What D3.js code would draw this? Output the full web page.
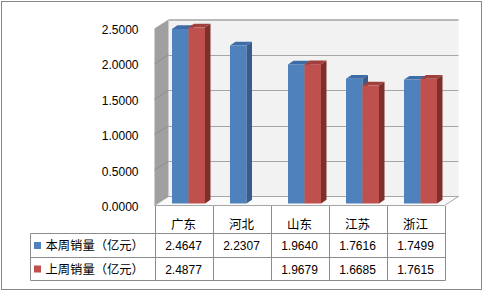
<!DOCTYPE html>
<html>
<head>
<meta charset="utf-8">
<script src="https://cdn.jsdelivr.net/npm/d3@7"></script>
<style>
  html, body { margin: 0; padding: 0; background: #fff; }
  svg { display: block; }
  text { font-family: "Liberation Sans", Arial, sans-serif; fill: #000; }
  .cjk { font-family: "Noto Sans CJK SC", "Liberation Sans", sans-serif; }
</style>
</head>
<body>
<script>
// Weekly sales by province (hundred-million yuan)
const categories = ["广东", "河北", "山东", "江苏", "浙江"];
const seriesNames = ["本周销量（亿元）", "上周销量（亿元）"];
const thisWeek = [2.4647, 2.2307, 1.9640, 1.7616, 1.7499];
const lastWeek = [2.4877, null, 1.9679, 1.6685, 1.7615];
const tickValues = [0, 0.5, 1.0, 1.5, 2.0, 2.5];

const W = 487, H = 296;
const colors = {
  front: ["#4F81BD", "#C0504D"],
  side:  ["#385D8A", "#7D2F2C"],
  top:   ["#3E6CA6", "#A0403D"]
};

const svg = d3.select("body").append("svg")
  .attr("width", W).attr("height", H);

// chart frame
svg.append("rect")
  .attr("x", 1.5).attr("y", 1.5).attr("width", 480).attr("height", 288)
  .attr("fill", "#fff").attr("stroke", "#878787").attr("stroke-width", 1);

// oblique 3D projection: front plane plus a depth offset
const depthX = 14, depthY = -9;
const y = d3.scaleLinear().domain([0, 2.5]).range([205.5, 28.5]);
const x = d3.scaleBand().domain(categories).range([154.5, 444.5]);
const xs = d3.scaleBand().domain(seriesNames).range([17.5, 50.5]);

const x0 = x.range()[0], x1 = x.range()[1];
const yb = v => y(v) + depthY;

// back wall
svg.append("rect")
  .attr("x", x0 + depthX).attr("y", yb(2.5))
  .attr("width", x1 - x0).attr("height", yb(0) - yb(2.5))
  .attr("fill", "#F2F2F2");
svg.append("line")
  .attr("x1", x0 + depthX).attr("x2", x1 + depthX)
  .attr("y1", yb(2.5) + 0.5).attr("y2", yb(2.5) + 0.5)
  .attr("stroke", "#A6A6A6").attr("stroke-width", 1.5);

// side wall
svg.append("path")
  .attr("d", `M${x0},${y(0)}L${x0},${y(2.5)}L${x0 + depthX},${yb(2.5)}L${x0 + depthX},${yb(0)}Z`)
  .attr("fill", "#A0A0A0");

// floor
svg.append("path")
  .attr("d", `M${x0},${y(0)}L${x0 + depthX},${yb(0)}L${x1 + depthX},${yb(0)}L${x1},${y(0)}Z`)
  .attr("fill", "#FAFAFA").attr("stroke", "#A6A6A6").attr("stroke-width", 1);

// gridlines: back wall and side wall
const grid = svg.append("g");
grid.selectAll("line.back").data(tickValues.filter(v => v > 0 && v < 2.5)).join("line")
  .attr("x1", x0 + depthX).attr("x2", x1 + depthX)
  .attr("y1", d => Math.round(yb(d)) + 0.5).attr("y2", d => Math.round(yb(d)) + 0.5)
  .attr("stroke", "#A6A6A6");
grid.selectAll("line.side").data(tickValues.filter(v => v > 0 && v < 2.5)).join("line")
  .attr("x1", x0).attr("x2", x0 + depthX)
  .attr("y1", d => y(d)).attr("y2", d => yb(d))
  .attr("stroke", "#8E8E8E");

// value axis labels
svg.append("g").selectAll("text").data(tickValues).join("text")
  .attr("x", 138.5).attr("y", d => y(d) + 1.5)
  .attr("text-anchor", "end").attr("dominant-baseline", "central")
  .attr("font-size", 12)
  .text(d => d3.format(".4f")(d));

// 3D columns
const barDx = 5.5, barDy = -3.7, barLift = -2;
const rows = categories.map((c, i) => [thisWeek[i], lastWeek[i]]);
const bars = svg.append("g");
categories.forEach((c, i) => {
  seriesNames.forEach((s, k) => {
    const v = rows[i][k];
    if (v == null) return;
    const bx = x(c) + xs(s), bw = xs.bandwidth();
    const top = y(v) + barLift, bot = y(0) + barLift;
    const g = bars.append("g");
    g.append("rect").attr("x", bx).attr("y", top).attr("width", bw).attr("height", bot - top)
      .attr("fill", colors.front[k]);
    g.append("path")
      .attr("d", `M${bx + bw},${top}L${bx + bw + barDx},${top + barDy}L${bx + bw + barDx},${bot + barDy}L${bx + bw},${bot}Z`)
      .attr("fill", colors.side[k]);
    g.append("path")
      .attr("d", `M${bx},${top}L${bx + barDx},${top + barDy}L${bx + bw + barDx},${top + barDy}L${bx + bw},${top}Z`)
      .attr("fill", colors.top[k]);
  });
});

// data table
const tbl = svg.append("g");
const lineColor = "#8C8C8C";
const legendLeft = 30.5;
const rowTops = [233.5, 257.5, 280.5];
const headerTop = 206;
// vertical separators
x.domain().concat([null]).forEach((c, i) => {
  const xx = Math.round(x0 + i * x.bandwidth()) + 0.5;
  tbl.append("line").attr("x1", xx).attr("x2", xx)
    .attr("y1", headerTop).attr("y2", rowTops[2])
    .attr("stroke", lineColor);
});
tbl.append("line").attr("x1", legendLeft).attr("x2", legendLeft)
  .attr("y1", rowTops[0]).attr("y2", rowTops[2]).attr("stroke", lineColor);
rowTops.forEach(ry => {
  tbl.append("line").attr("x1", legendLeft).attr("x2", Math.round(x1) + 0.5)
    .attr("y1", ry).attr("y2", ry).attr("stroke", lineColor);
});

// header row: categories
tbl.selectAll("text.cat").data(categories).join("text")
  .attr("class", "cjk")
  .attr("x", d => x(d) + x.bandwidth() / 2).attr("y", 223.5)
  .attr("text-anchor", "middle").attr("dominant-baseline", "central")
  .attr("font-size", 12.5)
  .text(d => d);

// series rows
[thisWeek, lastWeek].forEach((vals, k) => {
  const cy = (rowTops[k] + rowTops[k + 1]) / 2;
  tbl.append("rect").attr("x", 34).attr("y", cy - 3.5).attr("width", 7).attr("height", 7)
    .attr("fill", colors.front[k]);
  tbl.append("text").attr("class", "cjk")
    .attr("x", 45.5).attr("y", cy - 0.5)
    .attr("dominant-baseline", "central")
    .attr("font-size", 12.3)
    .text(seriesNames[k]);
  tbl.selectAll(null).data(categories).join("text")
    .attr("x", d => x(d) + x.bandwidth() / 2).attr("y", cy + 0.5)
    .attr("text-anchor", "middle").attr("dominant-baseline", "central")
    .attr("font-size", 12)
    .text((d, i) => vals[i] == null ? "" : d3.format(".4f")(vals[i]));
});
</script>
</body>
</html>
